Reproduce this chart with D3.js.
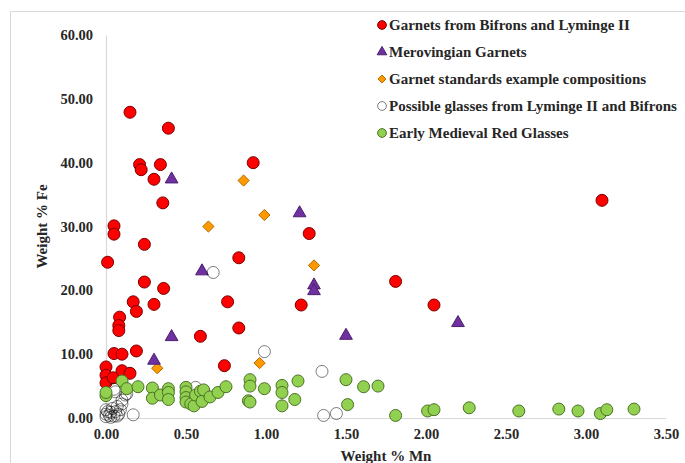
<!DOCTYPE html>
<html>
<head>
<meta charset="utf-8">
<script src="https://cdn.jsdelivr.net/npm/d3@7"></script>
<style>
  body { margin: 0; background: #fff; }
</style>
</head>
<body>
<svg id="chart"></svg>
<script>
const width = 685;
const height = 463;
const fontFamily = "'Liberation Serif', 'Times New Roman', serif";

// [Mn %, Fe %]
const bifronsGarnets = [
    [0.15, 47.9], [0.39, 45.4], [0.21, 39.7], [0.22, 38.9], [0.34, 39.7], [0.30, 37.4],
    [0.355, 33.7], [0.92, 40.0], [0.05, 30.1], [0.05, 28.8], [0.24, 27.2], [0.01, 24.4],
    [0.24, 21.3], [0.36, 20.3], [0.17, 18.2], [0.19, 16.7], [0.30, 17.8], [0.085, 15.8],
    [0.08, 14.5], [0.08, 13.7], [0.05, 10.1], [0.10, 10.0], [0.19, 10.5], [0.00, 8.0],
    [0.00, 6.7], [0.00, 5.5], [0.045, 6.3], [0.10, 7.4], [0.15, 7.0], [0.59, 12.8],
    [0.74, 8.2], [0.76, 18.2], [0.83, 25.1], [0.83, 14.1], [1.27, 28.9], [1.22, 17.7],
    [1.81, 21.4], [2.05, 17.7], [3.10, 34.1]
];
const merovingianGarnets = [
    [0.41, 37.4], [1.21, 32.1], [0.60, 23.0], [1.30, 20.8], [1.30, 19.9], [0.41, 12.7],
    [1.50, 12.9], [2.20, 14.9], [0.30, 9.0]
];
const garnetStandards = [
    [0.86, 37.2], [0.99, 31.8], [0.64, 30.0], [1.30, 23.9], [0.32, 7.8], [0.96, 8.6], [0.10, 6.7]
];
const possibleGlasses = [
    [0.00, 0.2], [0.00, 0.6], [0.01, 1.0], [0.00, 1.3], [0.02, 0.4], [0.03, 0.9], [0.04, 1.5],
    [0.05, 0.3], [0.06, 1.0], [0.07, 1.8], [0.08, 0.6], [0.09, 1.3], [0.10, 2.2], [0.10, 2.8],
    [0.12, 3.6], [0.06, 4.1], [0.13, 3.8], [0.05, 4.5], [0.03, 0.1], [0.07, 0.3], [0.17, 0.5],
    [0.56, 4.8], [0.67, 22.8], [0.99, 10.4], [1.35, 7.3], [1.36, 0.4], [1.44, 0.7]
];
const redGlasses = [
    [0.00, 3.5], [0.00, 4.0], [0.10, 5.8], [0.13, 4.6], [0.20, 4.9], [0.29, 4.7], [0.29, 3.1],
    [0.34, 3.6], [0.39, 4.6], [0.39, 4.0], [0.39, 2.9], [0.50, 4.8], [0.50, 4.1], [0.50, 3.2],
    [0.50, 2.5], [0.53, 2.2], [0.55, 1.9], [0.56, 3.6], [0.59, 4.2], [0.60, 2.6], [0.61, 4.4],
    [0.65, 3.3], [0.70, 4.0], [0.75, 4.9], [0.90, 6.0], [0.90, 5.0], [0.89, 2.7], [0.90, 2.5],
    [0.99, 4.6], [1.10, 5.1], [1.10, 4.0], [1.10, 1.9], [1.18, 2.9], [1.20, 5.8], [1.50, 6.0],
    [1.51, 2.1], [1.61, 4.9], [1.70, 5.0], [1.81, 0.4], [2.01, 1.1], [2.05, 1.3], [2.27, 1.6],
    [2.58, 1.1], [2.83, 1.4], [2.95, 1.1], [3.09, 0.7], [3.13, 1.3], [3.30, 1.4]
];

const xTicks = [0, 0.5, 1, 1.5, 2, 2.5, 3, 3.5];
const yTicks = [0, 10, 20, 30, 40, 50, 60];

const series = [
    { name: "Garnets from Bifrons and Lyminge II", data: bifronsGarnets, symbol: d3.symbolCircle, size: 113, fill: "#ff0000", stroke: "#7a0000" },
    { name: "Merovingian Garnets", data: merovingianGarnets, symbol: d3.symbolTriangle, size: 70, fill: "#7030a0", stroke: "#4b1f6f" },
    { name: "Garnet standards example compositions", data: garnetStandards, symbol: d3.symbolDiamond2, size: 80, fill: "#ff9900", stroke: "#b36b00" },
    { name: "Possible glasses from Lyminge II and Bifrons", data: possibleGlasses, symbol: d3.symbolCircle, size: 113, fill: "none", stroke: "rgba(0,0,0,0.5)" },
    { name: "Early Medieval Red Glasses", data: redGlasses, symbol: d3.symbolCircle, size: 113, fill: "#92d050", stroke: "#4a7226" }
];
// drawing order on the plot (diamonds sit under the red circles)
const drawOrder = [2, 0, 1, 3, 4];

const svg = d3.select("#chart")
    .attr("width", width)
    .attr("height", height);

const styleText = (sel, size) => sel
    .style("font-family", fontFamily)
    .style("font-weight", "bold")
    .style("font-size", size)
    .attr("fill", "#262626");

svg.append("rect")
    .attr("x", 10.5).attr("y", 11.5)
    .attr("width", 720).attr("height", 500)
    .attr("fill", "none")
    .attr("stroke", "#d9d9d9");

const x = d3.scaleLinear().domain([0, 3.5]).range([106, 666]);
const y = d3.scaleLinear().domain([0, 60]).range([418, 35]);

const xAxis = svg.append("g")
    .attr("transform", `translate(0,${y(0)})`)
    .call(d3.axisBottom(x).tickValues(xTicks).tickFormat(d3.format(".2f")).tickSize(0).tickSizeOuter(0).tickPadding(11));

const yAxis = svg.append("g")
    .attr("transform", `translate(${x(0)},0)`)
    .call(d3.axisLeft(y).tickValues(yTicks).tickFormat(d3.format(".2f")).tickSize(0).tickSizeOuter(0).tickPadding(13));

[xAxis, yAxis].forEach(g => {
    g.select(".domain").attr("stroke", "#d9d9d9").attr("stroke-width", 1.2);
    styleText(g.selectAll("text"), "14.5px");
});

styleText(svg.append("text"), "15px")
    .attr("x", (x(0) + x(3.5)) / 2)
    .attr("y", 461)
    .attr("text-anchor", "middle")
    .text("Weight % Mn");

styleText(svg.append("text"), "15px")
    .attr("transform", `translate(47,${(y(0) + y(60)) / 2}) rotate(-90)`)
    .attr("text-anchor", "middle")
    .text("Weight % Fe");

drawOrder.forEach(i => {
    const s = series[i];
    const sym = d3.symbol().type(s.symbol).size(s.size);
    svg.append("g")
        .selectAll("path")
        .data(s.data)
        .enter().append("path")
        .attr("d", sym)
        .attr("transform", d => `translate(${x(d[0])},${y(d[1])})`)
        .attr("fill", s.fill)
        .attr("stroke", s.stroke)
        .attr("stroke-width", 1);
});

const legend = svg.append("g").attr("transform", "translate(382,25)");
const legendRows = legend.selectAll("g")
    .data(series)
    .enter().append("g")
    .attr("transform", (d, i) => `translate(0,${i * 27})`);

legendRows.append("path")
    .attr("d", d => d3.symbol().type(d.symbol).size(d.symbol === d3.symbolCircle ? 60 : 40)())
    .attr("fill", d => d.fill === "none" ? "#fff" : d.fill)
    .attr("stroke", d => d.stroke);

styleText(legendRows.append("text"), "15px")
    .attr("x", 7)
    .attr("dy", "0.35em")
    .text(d => d.name);
</script>
</body>
</html>
